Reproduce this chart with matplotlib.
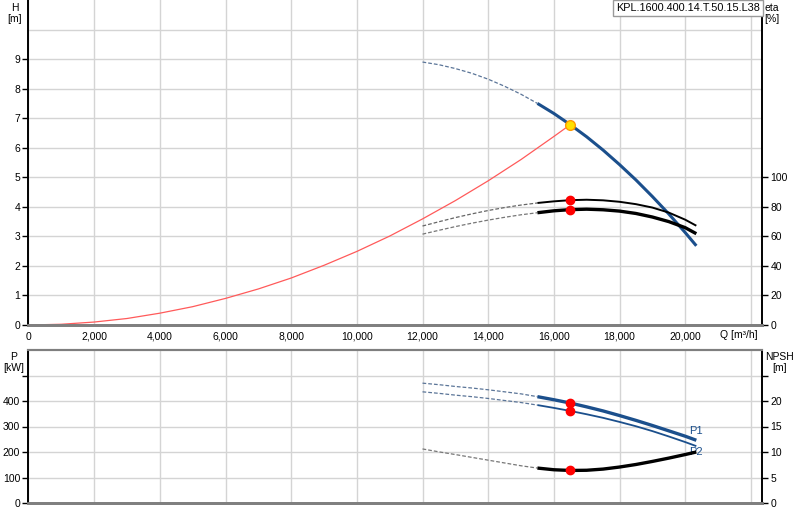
import numpy as np
import matplotlib
matplotlib.use("Agg")
from matplotlib import pyplot as plt

# --- donnees ---
q = [12000, 12500, 13000, 13500, 14000, 14500, 15000, 15500, 16000, 16500,
     17000, 17500, 18000, 18500, 19000, 19500, 20000, 20340]
h = [8.90, 8.81, 8.68, 8.52, 8.32, 8.08, 7.81, 7.50, 7.16, 6.78,
     6.37, 5.92, 5.43, 4.91, 4.35, 3.76, 3.13, 2.68]
eta_hyd = [67.0, 69.9, 72.7, 75.2, 77.5, 79.5, 81.2, 82.6, 83.7, 84.5,
           84.8, 84.4, 83.4, 81.8, 79.5, 76.1, 71.3, 67.2]
eta_tot = [61.5, 64.1, 66.6, 68.9, 71.0, 72.9, 74.6, 76.0, 77.3, 78.1,
           78.4, 78.0, 77.1, 75.5, 73.1, 70.0, 65.9, 61.8]
p1 = [470, 464, 457, 451, 444, 436, 428, 417, 405, 392,
      377, 361, 343, 324, 304, 283, 262, 246]
p2 = [436, 430, 423, 417, 410, 402, 394, 384, 373, 361,
      348, 334, 318, 301, 282, 261, 239, 223]
npsh = [10.6, 10.03, 9.5, 8.95, 8.4, 7.85, 7.3, 6.85, 6.52, 6.38,
        6.42, 6.65, 7.05, 7.55, 8.15, 8.8, 9.5, 10.0]

q_sys = [0, 1000, 2000, 3000, 4000, 5000, 6000, 7000, 8000, 9000, 10000,
         11000, 12000, 13000, 14000, 15000, 16000, 16500]
h_sys = [0, 0.025, 0.10, 0.22, 0.40, 0.62, 0.90, 1.22, 1.59, 2.02, 2.49,
         3.01, 3.59, 4.21, 4.88, 5.60, 6.38, 6.78]

q_op = 16500
h_op = 6.78
eta_op = [84.5, 78.1]
p_op = [392, 361]
npsh_op = 6.38

x_ticks = [0, 2000, 4000, 6000, 8000, 10000, 12000, 14000, 16000, 18000, 20000]
x_grid = x_ticks + [22000]

bleu = "#1b4f8c"
grille = "#d4d4d4"
plt.rcParams["font.family"] = ["Liberation Sans", "DejaVu Sans"]
plt.rcParams["font.size"] = 7.5

q = np.array(q)
dash = q <= 15500
solid = q >= 15500


def split_plot(ax, y, color, lw, dcolor):
    y = np.array(y)
    ax.plot(q[dash], y[dash], color=dcolor, lw=0.9, ls=(0, (3, 1.6)))
    ax.plot(q[solid], y[solid], color=color, lw=lw, solid_capstyle="butt")


fig = plt.figure(figsize=(8, 5.2), dpi=100)
X0 = 28.5 / 800
W = 733.5 / 800
XMAX = 22340

# ---------- graphe du haut : H / eta ----------
ax = fig.add_axes([X0, 1 - 325 / 520, W, 325 / 520])
ax.set_xlim(0, XMAX)
ax.set_ylim(0, 11)
for xv in x_grid:
    ax.axvline(xv, color=grille, lw=1, zorder=0)
for yv in range(1, 11):
    ax.axhline(yv, color=grille, lw=1, zorder=0)

ax.plot(q_sys, h_sys, color="#ff5a5a", lw=0.9)
split_plot(ax, h, bleu, 2.2, "#5b7598")

ax2 = ax.twinx()
ax2.set_ylim(0, 220)
split_plot(ax2, eta_hyd, "black", 1.4, "#666666")
split_plot(ax2, eta_tot, "black", 2.4, "#777777")
ax2.plot([q_op, q_op], eta_op, "o", color="red", ms=6, ls="none")
ax2.plot([q_op], [h_op * 20], "o", ms=7, mfc="#ffe000", mec="#ff9a00", mew=1, zorder=5)

ax.set_xticks(x_ticks)
ax.set_xticklabels([f"{v:,}" for v in x_ticks])
ax.set_yticks(range(0, 10))
ax2.set_yticks(range(0, 101, 20))
ax.tick_params(axis="x", length=0, pad=5)
ax.tick_params(axis="y", length=4, width=1, pad=2)
ax2.tick_params(axis="y", length=4, width=1, pad=2)
for a in (ax, ax2):
    a.spines["top"].set_visible(False)
    a.spines["bottom"].set_color("#7f7f7f")
    a.spines["bottom"].set_linewidth(2)
    a.spines["left"].set_linewidth(1.2)
    a.spines["right"].set_linewidth(1.2)

fig.text(688 / 800, 1 - 8 / 520, "KPL.1600.400.14.T.50.15.L38", ha="center", va="center",
         fontsize=7.8,
         bbox=dict(boxstyle="square,pad=0.3", fc="white", ec="#9a9a9a", lw=1))
fig.text(15 / 800, 1 - 3 / 520, "H\n[m]", ha="center", va="top", linespacing=1.15)
fig.text(772 / 800, 1 - 3 / 520, "eta\n[%]", ha="center", va="top", linespacing=1.15)
fig.text(739 / 800, 1 - 335 / 520, "Q [m\u00b3/h]", ha="center", va="center")

# ---------- graphe du bas : P / NPSH ----------
bx = fig.add_axes([X0, 1 - 503 / 520, W, (503 - 350) / 520])
bx.set_xlim(0, XMAX)
bx.set_ylim(0, 600)
for xv in x_grid:
    bx.axvline(xv, color=grille, lw=1, zorder=0)
for yv in range(100, 600, 100):
    bx.axhline(yv, color=grille, lw=1, zorder=0)

split_plot(bx, p1, bleu, 2.4, "#5b7598")
split_plot(bx, p2, bleu, 1.3, "#5b7598")

bx2 = bx.twinx()
bx2.set_ylim(0, 30)
split_plot(bx2, npsh, "black", 2.4, "#777777")
bx2.plot([q_op], [npsh_op], "o", color="red", ms=6, zorder=5)
bx2.plot([q_op, q_op], np.array(p_op) / 20, "o", color="red", ms=6, ls="none", zorder=5)

bx.text(20130, 281, "P1", color=bleu, fontsize=8, va="center")
bx.text(20130, 201, "P2", color=bleu, fontsize=8, va="center")

bx.set_xticks(x_ticks)
bx.tick_params(axis="x", length=0, labelbottom=False)
bx.set_yticks(range(0, 501, 100))
bx.set_yticklabels(["0", "100", "200", "300", "400", ""])
bx2.set_yticks(range(0, 26, 5))
bx2.set_yticklabels(["0", "5", "10", "15", "20", ""])
bx.tick_params(axis="y", length=4, width=1, pad=2)
bx2.tick_params(axis="y", length=4, width=1, pad=2)
for a in (bx, bx2):
    a.spines["top"].set_color("#7f7f7f")
    a.spines["top"].set_linewidth(1.5)
    a.spines["bottom"].set_color("#7f7f7f")
    a.spines["bottom"].set_linewidth(2)
    a.spines["left"].set_linewidth(1.2)
    a.spines["right"].set_linewidth(1.2)

fig.text(14 / 800, 1 - 352 / 520, "P\n[kW]", ha="center", va="top", linespacing=1.15)
fig.text(780 / 800, 1 - 352 / 520, "NPSH\n[m]", ha="center", va="top", linespacing=1.15)

fig.savefig("out.png", dpi=100)
